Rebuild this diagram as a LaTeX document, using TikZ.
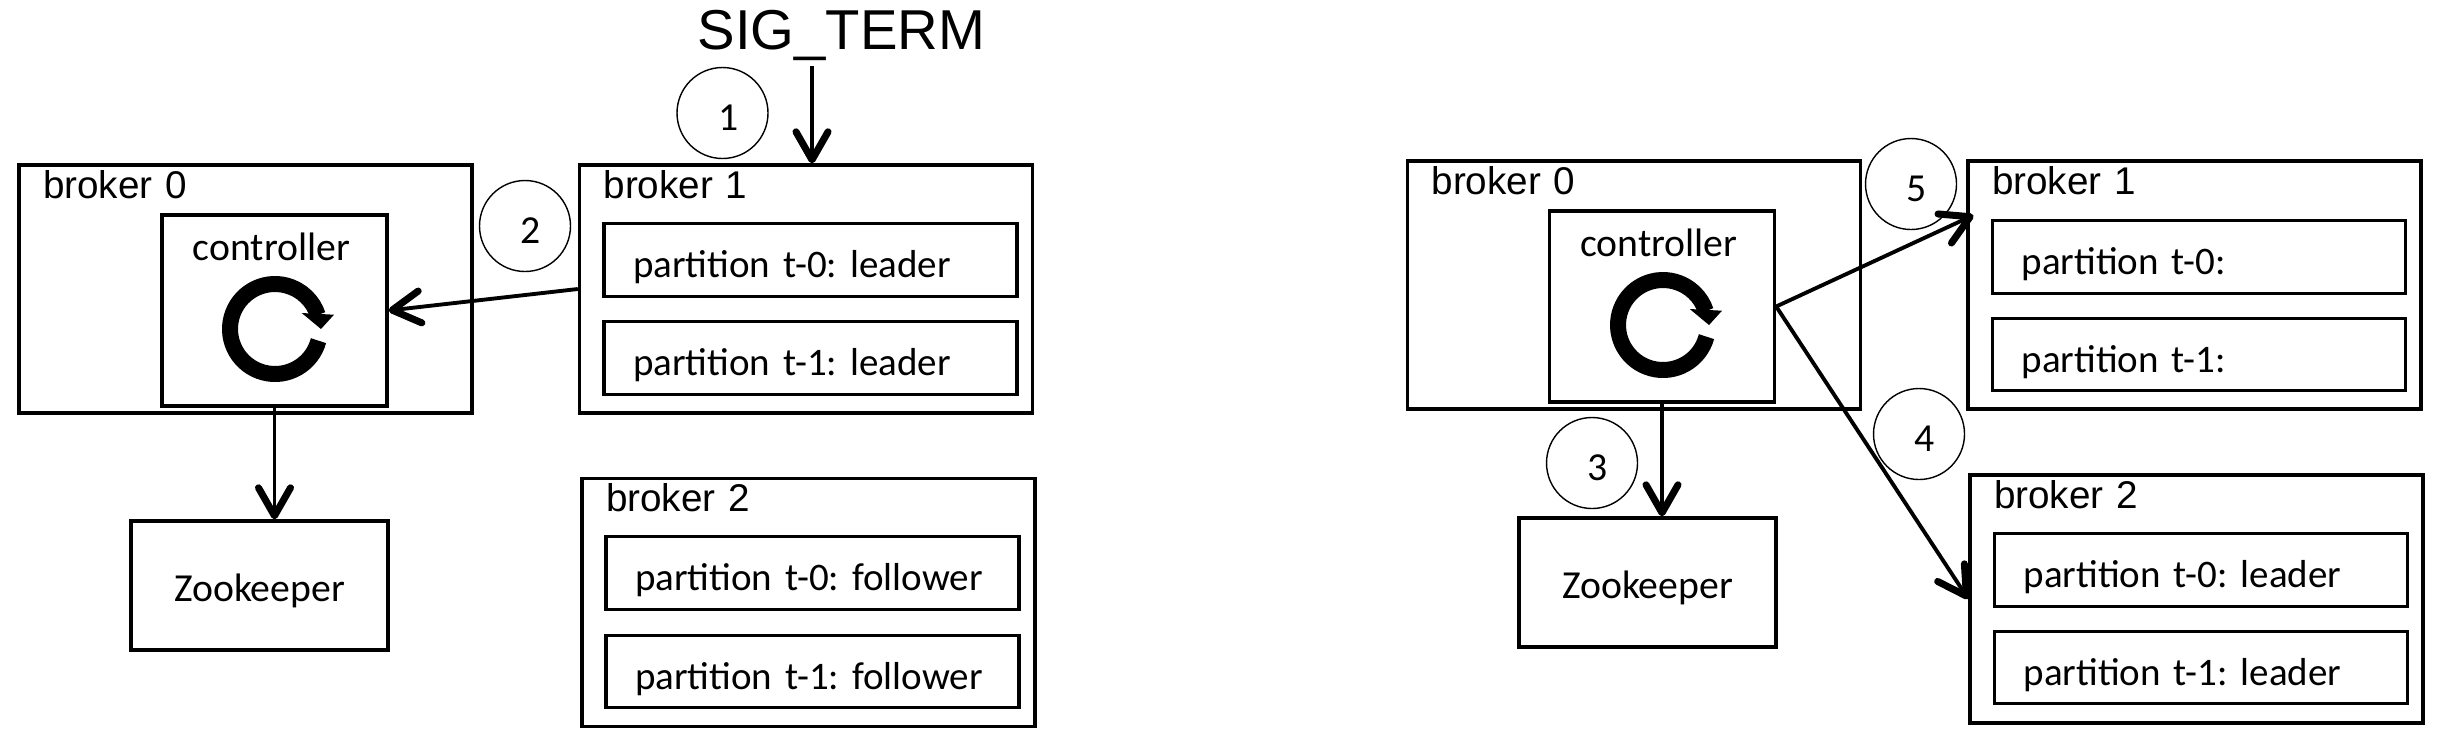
\documentclass[tikz,border=0pt]{standalone}
\usepackage{fontspec}
\setmainfont{Carlito}
\newfontfamily\arialfont{Liberation Sans}
\usetikzlibrary{arrows.meta,positioning}
\newcommand{\labelsize}{\frenchspacing\fontsize{11.3pt}{13pt}\selectfont}
\newcommand{\partsize}{\frenchspacing\fontsize{11.1pt}{13pt}\selectfont}
\newcommand{\brokersize}{\fontsize{11pt}{13pt}\selectfont}
\tikzset{
  brokerbox/.style={draw,line width=0.95pt,inner xsep=0.24cm,inner ysep=0pt,text width=4.05cm,align=left,text height=0.33cm,text depth=2.15cm,font=\arialfont\brokersize},
  partbox/.style={draw,line width=0.95pt,inner xsep=0.15cm,inner ysep=0pt,text width=3.83cm,align=left,text height=0.54cm,text depth=0.185cm,font=\partsize,execute at begin node={\hspace*{0.14cm}}},
  ctrlbox/.style={draw,line width=0.95pt,inner xsep=0pt,inner ysep=0pt,text width=2.25cm,align=center,text height=0.45cm,text depth=1.46cm,font=\labelsize,execute at begin node={\hspace*{-0.06cm}}},
  zkbox/.style={draw,line width=0.95pt,inner xsep=0pt,inner ysep=0pt,text width=2.57cm,align=center,text height=0.8cm,text depth=0.49cm,font=\labelsize},
  stepmark/.style={draw,circle,line width=0.4pt,minimum size=0.91cm,inner sep=0pt,text height=0.35cm,text depth=0pt,font=\labelsize,execute at begin node={\hspace*{0.12cm}}},
  msg/.style={-{Straight Barb[length=0.28cm,width=0.32cm,line width=2pt,round]},line width=1.1pt},
  loopicon/.pic={
    \draw[line width=0.16cm] (-15:0.45) arc[start angle=-15,end angle=-342,radius=0.45];
    \fill (0.267,0.16) -- (0.59,0.143) -- (0.46,0) -- cycle;
  }
}
\begin{document}
\begin{tikzpicture}
  \useasboundingbox (0,0) rectangle (24.4,-7.38);

  % before the shutdown
  \node[brokerbox] (broker0l) at (2.455,-2.89) {broker 0};
  \node[ctrlbox] (ctrll) at (2.745,-3.105) {controller};
  \pic at (2.75,-3.29) {loopicon};
  \node[zkbox] (zkl) at (2.595,-5.855) {Zookeeper};
  \node[brokerbox] (broker1l) at (8.06,-2.89) {broker 1};
  \node[partbox] (p10l) at (8.105,-2.60) {partition t-0: leader};
  \node[partbox] (p11l) at (8.105,-3.58) {partition t-1: leader};
  \node[brokerbox] (broker2l) at (8.085,-6.025) {broker 2};
  \node[partbox] (p20l) at (8.125,-5.73) {partition t-0: follower};
  \node[partbox] (p21l) at (8.125,-6.715) {partition t-1: follower};

  \node[font=\arialfont\fontsize{16pt}{18pt}\selectfont,anchor=base,inner sep=0pt] (sigterm) at (8.415,-0.49) {SIG\_TERM};
  \coordinate (sigstart) at (8.12,-0.66);
  \node[stepmark] (s1) at (7.225,-1.13) {1};
  \node[stepmark] (s2) at (5.25,-2.26) {2};

  \draw[msg] (sigstart) -- (sigstart |- broker1l.north);
  \draw[msg] (broker1l.west) -- (ctrll.east);
  \draw[msg] (ctrll.south) -- (ctrll.south |- zkl.north);

  % after the failover
  \node[brokerbox] (broker0r) at (16.34,-2.85) {broker 0};
  \node[ctrlbox] (ctrlr) at (16.62,-3.065) {controller};
  \pic at (16.63,-3.25) {loopicon};
  \node[zkbox] (zkr) at (16.475,-5.825) {Zookeeper};
  \node[brokerbox] (broker1r) at (21.945,-2.85) {broker 1};
  \node[partbox] (p10r) at (21.99,-2.57) {partition t-0:};
  \node[partbox] (p11r) at (21.99,-3.545) {partition t-1:};
  \node[brokerbox] (broker2r) at (21.965,-5.99) {broker 2};
  \node[partbox] (p20r) at (22.01,-5.70) {partition t-0: leader};
  \node[partbox] (p21r) at (22.01,-6.675) {partition t-1: leader};

  \node[stepmark] (s3) at (15.92,-4.63) {3};
  \node[stepmark] (s4) at (19.19,-4.34) {4};
  \node[stepmark] (s5) at (19.11,-1.84) {5};

  \draw[msg] (ctrlr.south) -- (ctrlr.south |- zkr.north);
  \draw[msg] (ctrlr.east) -- (broker2r.west);
  \draw[msg] (ctrlr.east) -- ([xshift=0.07cm]broker1r.163);
\end{tikzpicture}
\end{document}
